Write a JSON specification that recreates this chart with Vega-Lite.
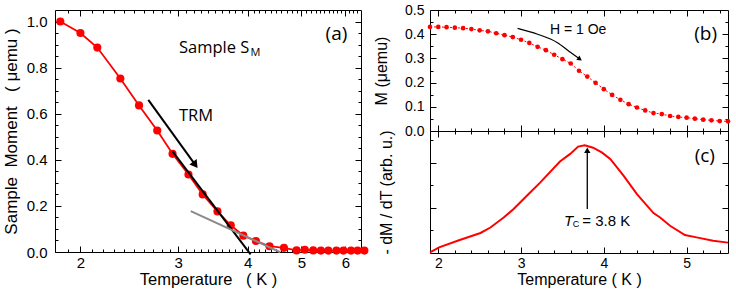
{
 "$schema": "https://vega.github.io/schema/vega-lite/v6.json",
 "padding": {"left": 1, "top": 2, "right": 2, "bottom": 0},
 "background": "white",
 "config": {
  "font": "Liberation Sans",
  "view": {"stroke": "black", "strokeWidth": 1},
  "axis": {"labelFont": "Liberation Sans", "titleFont": "Liberation Sans", "labelColor": "black", "titleColor": "black", "tickColor": "black", "domain": false, "grid": false, "titleFontWeight": "normal", "tickWidth": 1}
 },
 "datasets": {
  "a": [{"T":1.84,"M":1.0},{"T":2.0,"M":0.95},{"T":2.145,"M":0.887},{"T":2.36,"M":0.753},{"T":2.55,"M":0.636},{"T":2.75,"M":0.527},{"T":2.93,"M":0.426},{"T":3.13,"M":0.336},{"T":3.32,"M":0.25},{"T":3.53,"M":0.176},{"T":3.73,"M":0.116},{"T":3.93,"M":0.071},{"T":4.14,"M":0.048},{"T":4.38,"M":0.025},{"T":4.65,"M":0.018},{"T":4.9,"M":0.007},{"T":5.07,"M":0.01},{"T":5.25,"M":0.007},{"T":5.42,"M":0.006},{"T":5.59,"M":0.006},{"T":5.78,"M":0.006},{"T":5.95,"M":0.006},{"T":6.14,"M":0.006},{"T":6.31,"M":0.006},{"T":6.49,"M":0.006}],
  "aBlack": [{"T":2.93,"M":0.437},{"T":4.05,"M":-0.01}],
  "aGray": [{"T":3.16,"M":0.177},{"T":4.58,"M":-0.001}],
  "aArrow": [{"T":2.65,"M":0.66},{"T":3.22,"M":0.378}],
  "aHead": [{"T":3.22,"M":0.378}],
  "aText": [{"T":3.01,"M":0.886,"label":"Sample S"},{"T":3.01,"M":0.592,"label":"TRM"}],
  "aSub": [{"T":4.05,"M":0.862,"label":"M"}],
  "aTag": [{"T":5.78,"M":0.945,"label":"(a)"}],
  "b": [{"T":1.9,"M":0.43},{"T":2.0,"M":0.43},{"T":2.1,"M":0.429},{"T":2.2,"M":0.427},{"T":2.3,"M":0.425},{"T":2.4,"M":0.421},{"T":2.5,"M":0.416},{"T":2.6,"M":0.412},{"T":2.7,"M":0.404},{"T":2.8,"M":0.396},{"T":2.9,"M":0.388},{"T":3.0,"M":0.377},{"T":3.1,"M":0.364},{"T":3.2,"M":0.348},{"T":3.3,"M":0.334},{"T":3.4,"M":0.315},{"T":3.5,"M":0.297},{"T":3.6,"M":0.279},{"T":3.7,"M":0.249},{"T":3.8,"M":0.225},{"T":3.9,"M":0.199},{"T":4.0,"M":0.173},{"T":4.1,"M":0.149},{"T":4.2,"M":0.129},{"T":4.3,"M":0.111},{"T":4.4,"M":0.097},{"T":4.5,"M":0.085},{"T":4.6,"M":0.074},{"T":4.7,"M":0.07},{"T":4.8,"M":0.062},{"T":4.9,"M":0.058},{"T":5.0,"M":0.055},{"T":5.1,"M":0.051},{"T":5.2,"M":0.047},{"T":5.3,"M":0.044},{"T":5.4,"M":0.041},{"T":5.5,"M":0.04}],
  "bArrow": [{"T":2.958,"M":0.424},{"T":3.2,"M":0.4},{"T":3.44,"M":0.365},{"T":3.6,"M":0.324},{"T":3.71,"M":0.297}],
  "bHead": [{"T":3.71,"M":0.297}],
  "bText": [{"T":3.69,"M":0.416,"label":"H = 1 Oe"}],
  "bTag": [{"T":5.23,"M":0.4,"label":"(b)"}],
  "c": [{"T":1.9,"v":0.005},{"T":2.01,"v":0.046},{"T":2.25,"v":0.105},{"T":2.51,"v":0.164},{"T":2.63,"v":0.209},{"T":2.79,"v":0.291},{"T":2.91,"v":0.36},{"T":3.07,"v":0.469},{"T":3.23,"v":0.577},{"T":3.47,"v":0.75},{"T":3.59,"v":0.81},{"T":3.69,"v":0.872},{"T":3.77,"v":0.883},{"T":3.87,"v":0.863},{"T":3.98,"v":0.823},{"T":4.08,"v":0.769},{"T":4.24,"v":0.632},{"T":4.4,"v":0.482},{"T":4.6,"v":0.327},{"T":4.68,"v":0.291},{"T":4.8,"v":0.223},{"T":4.98,"v":0.147},{"T":5.12,"v":0.128},{"T":5.32,"v":0.1},{"T":5.5,"v":0.085}],
  "cArrow": [{"T":3.8,"v":0.36,"v2":0.84}],
  "cHead": [{"T":3.8,"v":0.843}],
  "cT": [{"T":3.52,"v":0.264,"label":"T"}],
  "cSub": [{"T":3.625,"v":0.235,"label":"C"}],
  "cEq": [{"T":3.74,"v":0.264,"label":"= 3.8 K"}],
  "cTag": [{"T":5.22,"v":0.796,"label":"(c)"}]
 },
 "bounds": "flush",
 "spacing": 69,
 "hconcat": [
  {
   "width": 306, "height": 242,
   "resolve": {"axis": {"x": "independent", "y": "independent"}},
   "layer": [
    {"data": {"name": "a"}, "mark": {"type": "line", "color": "red", "strokeWidth": 1.8},
     "encoding": {
      "x": {"field": "T", "type": "quantitative", "scale": {"type": "log", "domain": [1.8, 6.4], "nice": false},
            "axis": {"orient": "bottom", "title": "Temperature\u00a0\u00a0\u00a0(\u00a0K\u00a0)", "titleFontSize": 16.5, "titlePadding": 1, "labelFontSize": 15, "labelPadding": 9,
                     "values": [1.9,2,2.1,2.2,2.3,2.4,2.5,2.6,2.7,2.8,2.9,3,3.1,3.2,3.3,3.4,3.5,3.6,3.7,3.8,3.9,4,4.1,4.2,4.3,4.4,4.5,4.6,4.7,4.8,4.9,5,5.1,5.2,5.3,5.4,5.5,5.6,5.7,5.8,5.9,6,6.1,6.2,6.3],
                     "labelExpr": "abs(datum.value-round(datum.value))<0.001 ? format(datum.value,'d') : ''",
                     "tickSize": {"condition": {"test": "abs(datum.value-round(datum.value))<0.001", "value": -6}, "value": -3}}},
      "y": {"field": "M", "type": "quantitative", "scale": {"domain": [0, 1.05], "nice": false, "zero": false},
            "axis": {"orient": "left", "title": "Sample\u00a0\u00a0Moment\u00a0\u00a0\u00a0(\u00a0\u03bcemu\u00a0)", "titleFontSize": 17, "titlePadding": 6, "labelFontSize": 15, "labelPadding": 14,
                     "values": [0,0.05,0.1,0.15,0.2,0.25,0.3,0.35,0.4,0.45,0.5,0.55,0.6,0.65,0.7,0.75,0.8,0.85,0.9,0.95,1.0],
                     "labelExpr": "abs(datum.value*5-round(datum.value*5))<0.001 ? format(datum.value,'.1f') : ''",
                     "tickSize": {"condition": {"test": "abs(datum.value*5-round(datum.value*5))<0.001", "value": -6}, "value": -3}}}
     }},
    {"data": {"name": "a"}, "mark": {"type": "point", "filled": true, "color": "red", "size": 66, "opacity": 1},
     "encoding": {
      "x": {"field": "T", "type": "quantitative", "scale": {"type": "log", "domain": [1.8, 6.4], "nice": false},
            "axis": {"orient": "top", "title": null, "labels": false,
                     "values": [1.9,2,2.1,2.2,2.3,2.4,2.5,2.6,2.7,2.8,2.9,3,3.1,3.2,3.3,3.4,3.5,3.6,3.7,3.8,3.9,4,4.1,4.2,4.3,4.4,4.5,4.6,4.7,4.8,4.9,5,5.1,5.2,5.3,5.4,5.5,5.6,5.7,5.8,5.9,6,6.1,6.2,6.3],
                     "tickSize": {"condition": {"test": "abs(datum.value-round(datum.value))<0.001", "value": -6}, "value": -3}}},
      "y": {"field": "M", "type": "quantitative", "scale": {"domain": [0, 1.05], "nice": false, "zero": false},
            "axis": {"orient": "right", "title": null, "labels": false,
                     "values": [0.05,0.1,0.15,0.2,0.25,0.3,0.35,0.4,0.45,0.5,0.55,0.6,0.65,0.7,0.75,0.8,0.85,0.9,0.95,1.0],
                     "tickSize": {"condition": {"test": "abs(datum.value*5-round(datum.value*5))<0.001", "value": -6}, "value": -3}}}
     }},
    {"data": {"name": "aBlack"}, "mark": {"type": "line", "color": "black", "strokeWidth": 2},
     "encoding": {"x": {"field": "T", "type": "quantitative", "axis": null}, "y": {"field": "M", "type": "quantitative", "axis": null}}},
    {"data": {"name": "aGray"}, "mark": {"type": "line", "color": "#8a8a8a", "strokeWidth": 2},
     "encoding": {"x": {"field": "T", "type": "quantitative", "axis": null}, "y": {"field": "M", "type": "quantitative", "axis": null}}},
    {"data": {"name": "aArrow"}, "mark": {"type": "line", "color": "black", "strokeWidth": 2},
     "encoding": {"x": {"field": "T", "type": "quantitative", "axis": null}, "y": {"field": "M", "type": "quantitative", "axis": null}}},
    {"data": {"name": "aHead"}, "mark": {"type": "point", "shape": "triangle-up", "filled": true, "color": "black", "opacity": 1, "size": 80, "angle": 144},
     "encoding": {"x": {"field": "T", "type": "quantitative", "axis": null}, "y": {"field": "M", "type": "quantitative", "axis": null}}},
    {"data": {"name": "aText"}, "mark": {"type": "text", "font": "Open Sans", "fontSize": 16.5, "align": "left", "baseline": "middle", "color": "black"},
     "encoding": {"x": {"field": "T", "type": "quantitative", "axis": null}, "y": {"field": "M", "type": "quantitative", "axis": null}, "text": {"field": "label"}}},
    {"data": {"name": "aSub"}, "mark": {"type": "text", "font": "Open Sans", "fontSize": 11, "align": "left", "baseline": "middle", "color": "black"},
     "encoding": {"x": {"field": "T", "type": "quantitative", "axis": null}, "y": {"field": "M", "type": "quantitative", "axis": null}, "text": {"field": "label"}}},
    {"data": {"name": "aTag"}, "mark": {"type": "text", "font": "Open Sans", "fontSize": 19, "align": "center", "baseline": "middle", "color": "black"},
     "encoding": {"x": {"field": "T", "type": "quantitative", "axis": null}, "y": {"field": "M", "type": "quantitative", "axis": null}, "text": {"field": "label"}}}
   ]
  },
  {
   "bounds": "flush",
   "spacing": 0,
   "vconcat": [
    {
     "width": 298, "height": 121,
     "resolve": {"axis": {"x": "independent", "y": "independent"}},
     "layer": [
      {"data": {"name": "b"}, "mark": {"type": "line", "color": "red", "strokeWidth": 1, "strokeDash": [2, 2]},
       "encoding": {
        "x": {"field": "T", "type": "quantitative", "scale": {"domain": [1.9, 5.5], "nice": false, "zero": false},
              "axis": {"orient": "bottom", "title": null, "labels": false,
                       "values": [2,2.2,2.4,2.6,2.8,3,3.2,3.4,3.6,3.8,4,4.2,4.4,4.6,4.8,5,5.2,5.4],
                       "tickSize": {"condition": {"test": "abs(datum.value-round(datum.value))<0.001", "value": -6}, "value": -3}}},
        "y": {"field": "M", "type": "quantitative", "scale": {"domain": [0, 0.5], "nice": false, "zero": false},
              "axis": {"orient": "left", "title": "M (\u03bcemu)", "titleFontSize": 16, "titlePadding": 15, "labelFontSize": 14, "labelPadding": 12,
                       "values": [0,0.05,0.1,0.15,0.2,0.25,0.3,0.35,0.4,0.45,0.5],
                       "labelExpr": "abs(datum.value*10-round(datum.value*10))<0.001 ? format(datum.value,'.1f') : ''",
                       "tickSize": {"condition": {"test": "abs(datum.value*10-round(datum.value*10))<0.001", "value": -6}, "value": -3}}}
       }},
      {"data": {"name": "b"}, "mark": {"type": "point", "filled": true, "color": "red", "size": 22, "opacity": 1},
       "encoding": {
        "x": {"field": "T", "type": "quantitative", "scale": {"domain": [1.9, 5.5], "nice": false, "zero": false},
              "axis": {"orient": "top", "title": null, "labels": false,
                       "values": [2,2.2,2.4,2.6,2.8,3,3.2,3.4,3.6,3.8,4,4.2,4.4,4.6,4.8,5,5.2,5.4],
                       "tickSize": {"condition": {"test": "abs(datum.value-round(datum.value))<0.001", "value": -6}, "value": -3}}},
        "y": {"field": "M", "type": "quantitative", "scale": {"domain": [0, 0.5], "nice": false, "zero": false},
              "axis": {"orient": "right", "title": null, "labels": false,
                       "values": [0.05,0.1,0.15,0.2,0.25,0.3,0.35,0.4,0.45],
                       "tickSize": {"condition": {"test": "abs(datum.value*10-round(datum.value*10))<0.001", "value": -6}, "value": -3}}}
       }},
      {"data": {"name": "bArrow"}, "mark": {"type": "line", "color": "black", "strokeWidth": 1.2, "interpolate": "monotone"},
       "encoding": {"x": {"field": "T", "type": "quantitative", "axis": null}, "y": {"field": "M", "type": "quantitative", "axis": null}}},
      {"data": {"name": "bHead"}, "mark": {"type": "point", "shape": "triangle-up", "filled": true, "color": "black", "opacity": 1, "size": 30, "angle": 125},
       "encoding": {"x": {"field": "T", "type": "quantitative", "axis": null}, "y": {"field": "M", "type": "quantitative", "axis": null}}},
      {"data": {"name": "bText"}, "mark": {"type": "text", "font": "Liberation Sans", "fontSize": 14, "align": "center", "baseline": "middle", "color": "black"},
       "encoding": {"x": {"field": "T", "type": "quantitative", "axis": null}, "y": {"field": "M", "type": "quantitative", "axis": null}, "text": {"field": "label"}}},
      {"data": {"name": "bTag"}, "mark": {"type": "text", "font": "Open Sans", "fontSize": 19, "align": "center", "baseline": "middle", "color": "black"},
       "encoding": {"x": {"field": "T", "type": "quantitative", "axis": null}, "y": {"field": "M", "type": "quantitative", "axis": null}, "text": {"field": "label"}}}
     ]
    },
    {
     "width": 298, "height": 122,
     "resolve": {"axis": {"x": "independent", "y": "independent"}},
     "layer": [
      {"data": {"name": "c"}, "mark": {"type": "line", "color": "red", "strokeWidth": 2},
       "encoding": {
        "x": {"field": "T", "type": "quantitative", "scale": {"domain": [1.9, 5.5], "nice": false, "zero": false},
              "axis": {"orient": "bottom", "title": "Temperature ( K )", "titleFontSize": 16, "titlePadding": 1, "labelFontSize": 14, "labelPadding": 9,
                       "values": [2,2.2,2.4,2.6,2.8,3,3.2,3.4,3.6,3.8,4,4.2,4.4,4.6,4.8,5,5.2,5.4],
                       "labelExpr": "abs(datum.value-round(datum.value))<0.001 ? format(datum.value,'d') : ''",
                       "tickSize": {"condition": {"test": "abs(datum.value-round(datum.value))<0.001", "value": -6}, "value": -3}}},
        "y": {"field": "v", "type": "quantitative", "scale": {"domain": [0, 1], "nice": false, "zero": false},
              "axis": {"orient": "left", "title": "- dM / dT (arb. u.)", "titleFontSize": 16, "titlePadding": 35, "labels": false,
                       "values": [0.185,0.37,0.555,0.74,0.925],
                       "tickSize": {"condition": {"test": "abs(datum.value-0.37)<0.001 || abs(datum.value-0.74)<0.001", "value": -6}, "value": -3}}}
       }},
      {"data": {"name": "cArrow"}, "mark": {"type": "rule", "color": "black", "strokeWidth": 1.3},
       "encoding": {
        "x": {"field": "T", "type": "quantitative", "scale": {"domain": [1.9, 5.5], "nice": false, "zero": false},
              "axis": {"orient": "top", "title": null, "labels": false,
                       "values": [2,2.2,2.4,2.6,2.8,3,3.2,3.4,3.6,3.8,4,4.2,4.4,4.6,4.8,5,5.2,5.4],
                       "tickSize": {"condition": {"test": "abs(datum.value-round(datum.value))<0.001", "value": -6}, "value": -3}}},
        "y": {"field": "v", "type": "quantitative", "scale": {"domain": [0, 1], "nice": false, "zero": false},
              "axis": {"orient": "right", "title": null, "labels": false,
                       "values": [0.185,0.37,0.555,0.74,0.925],
                       "tickSize": {"condition": {"test": "abs(datum.value-0.37)<0.001 || abs(datum.value-0.74)<0.001", "value": -6}, "value": -3}}},
        "y2": {"field": "v2"}
       }},
      {"data": {"name": "cHead"}, "mark": {"type": "point", "shape": "triangle-up", "filled": true, "color": "black", "opacity": 1, "size": 40},
       "encoding": {"x": {"field": "T", "type": "quantitative", "axis": null}, "y": {"field": "v", "type": "quantitative", "axis": null}}},
      {"data": {"name": "cT"}, "mark": {"type": "text", "font": "Liberation Sans", "fontSize": 15, "fontStyle": "italic", "align": "left", "baseline": "middle", "color": "black"},
       "encoding": {"x": {"field": "T", "type": "quantitative", "axis": null}, "y": {"field": "v", "type": "quantitative", "axis": null}, "text": {"field": "label"}}},
      {"data": {"name": "cSub"}, "mark": {"type": "text", "font": "Liberation Sans", "fontSize": 9, "align": "left", "baseline": "middle", "color": "black"},
       "encoding": {"x": {"field": "T", "type": "quantitative", "axis": null}, "y": {"field": "v", "type": "quantitative", "axis": null}, "text": {"field": "label"}}},
      {"data": {"name": "cEq"}, "mark": {"type": "text", "font": "Liberation Sans", "fontSize": 15, "align": "left", "baseline": "middle", "color": "black"},
       "encoding": {"x": {"field": "T", "type": "quantitative", "axis": null}, "y": {"field": "v", "type": "quantitative", "axis": null}, "text": {"field": "label"}}},
      {"data": {"name": "cTag"}, "mark": {"type": "text", "font": "Open Sans", "fontSize": 19, "align": "center", "baseline": "middle", "color": "black"},
       "encoding": {"x": {"field": "T", "type": "quantitative", "axis": null}, "y": {"field": "v", "type": "quantitative", "axis": null}, "text": {"field": "label"}}}
     ]
    }
   ]
  }
 ]
}
